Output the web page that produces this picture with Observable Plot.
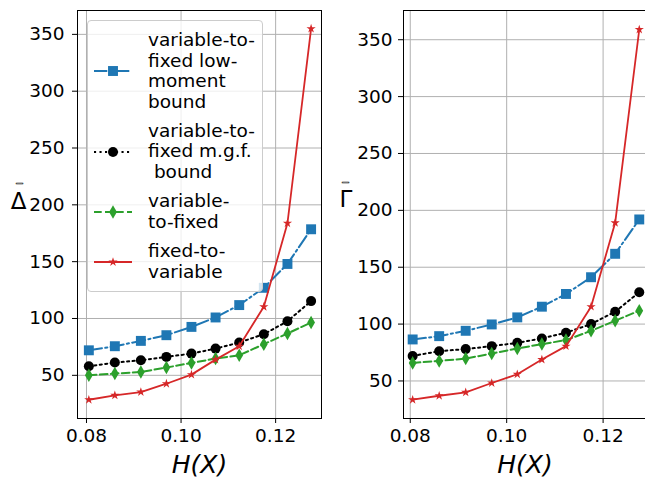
<!DOCTYPE html>
<html><head><meta charset="utf-8">
<script src="https://cdn.jsdelivr.net/npm/d3@7"></script>
<script src="https://cdn.jsdelivr.net/npm/@observablehq/plot@0.6"></script>
<style>
body{margin:0;background:#fff;}
#fig{position:relative;width:645px;height:481px;overflow:hidden;font-family:"DejaVu Sans";background:#fff;}
#left{position:absolute;left:0;top:0;}
#right{position:absolute;left:330px;top:0;}
.legend{position:absolute;left:87px;top:20px;width:176px;height:272px;box-sizing:border-box;background:rgba(255,255,255,0.8);border:1px solid #cccccc;border-radius:4px;padding:9px 0 0 5px;font-size:18.5px;line-height:20.5px;color:#000;}
.entry{display:flex;align-items:center;margin-bottom:8.9px;}
.entry svg{flex:none;width:40px;height:20px;margin-right:15px;}
.lbl{white-space:pre;}
</style></head>
<body>
<div id="fig"><div id="left"></div><div id="right"></div><div class="legend" id="legend"></div></div>
<script>
// ---- data ----
const hx = [0.0805, 0.0860, 0.0915, 0.0969, 0.1022, 0.1073, 0.1123, 0.1175, 0.1225, 0.1275];

const lowMomentDelta = [72, 75.6, 80.3, 85.3, 92.6, 100.9, 111.8, 127, 148, 178.5];
const mgfDelta       = [58, 61.2, 63.2, 66.2, 69.1, 73.5, 78.8, 86.2, 97.6, 115.3];
const v2fDelta       = [50, 51.5, 53, 56.8, 60.9, 64.7, 67.6, 77.4, 86.8, 96.5];
const f2vDelta       = [28.5, 32.4, 35.3, 42.6, 50.6, 63.8, 75.6, 110.3, 183.8, 355];

const lowMomentGamma = [86.5, 89.4, 94.1, 99.7, 105.9, 115.3, 126.5, 141.2, 161.8, 192];
const mgfGamma       = [72, 76.2, 78, 80.6, 83.5, 87.4, 92.4, 100, 110.9, 128];
const v2fGamma       = [65.9, 67.6, 69.7, 74.1, 78.5, 82.4, 85.9, 94.1, 102.9, 111.8];
const f2vGamma       = [33.5, 37, 40, 48.2, 55.9, 68.8, 80.6, 115.3, 189, 359];

const legendLabels = ["variable-to-\nfixed low-\nmoment\nbound", "variable-to-\nfixed m.g.f.\n bound", "variable-\nto-fixed", "fixed-to-\nvariable"];
const xTicks = [0.08, 0.10, 0.12];
const yTicks = [50, 100, 150, 200, 250, 300, 350];
const xLabel = "H(X)";
const leftYLabel = "\u0394";
const rightYLabel = "\u0393";
const barAccent = "_";   // the bar drawn over the y-axis symbols

// ---- styles ----
const styles = [
  {color: "#1f77b4", dash: "13.3,3.3,2.1,3.3", symbol: "square", d3sym: d3.symbolSquare, r: 5.6, w: 2},
  {color: "#000000", dash: "2.1,3.4", symbol: "circle", d3sym: d3.symbolCircle, r: 5, w: 2},
  {color: "#2ca02c", dash: "7.7,3.3", symbol: "diamond", d3sym: d3.symbolDiamond, r: 4.1, w: 2},
  {color: "#d62728", dash: null, symbol: "star", d3sym: d3.symbolStar, r: 2.9, w: 1.8}
];

function rows(ys) { return hx.map((x, i) => ({x, y: ys[i]})); }

function seriesMarks(sets) {
  const m = [];
  sets.forEach((ys, k) => {
    const s = styles[k];
    const data = rows(ys);
    m.push(Plot.line(data, {x: "x", y: "y", stroke: s.color, strokeWidth: s.w, strokeDasharray: s.dash || undefined}));
    m.push(Plot.dot(data, {x: "x", y: "y", symbol: () => s.symbol, r: s.r, fill: s.color, stroke: "none"}));
  });
  return m;
}

const baseStyle = {fontFamily: "DejaVu Sans", fontSize: "18.5px", color: "#000", background: "transparent", overflow: "visible"};

function yLabelMarks(label, dx, dy, barDx, barDy) {
  return [
    Plot.text([label], {text: d => d, frameAnchor: "left", dx: dx, dy: dy, fontSize: 23, textAnchor: "middle"}),
    Plot.text([barAccent], {text: d => d, frameAnchor: "left", dx: barDx, dy: barDy, fontSize: 13, textAnchor: "middle", stroke: "#000", strokeWidth: 0.6})
  ];
}

const left = Plot.plot({
  width: 330, height: 481, marginLeft: 77, marginRight: 9, marginTop: 10, marginBottom: 63,
  style: baseStyle,
  x: {domain: [0.0781, 0.1297], ticks: xTicks, tickFormat: d => d.toFixed(2), tickSize: 5, tickPadding: 5, label: null},
  y: {domain: [12, 371], ticks: yTicks, tickSize: 5, tickPadding: 8, label: null},
  marks: [
    Plot.ruleX(xTicks, {stroke: "#b0b0b0", strokeWidth: 1}),
    Plot.ruleY(yTicks, {stroke: "#b0b0b0", strokeWidth: 1}),
    ...seriesMarks([lowMomentDelta, mgfDelta, v2fDelta, f2vDelta]),
    Plot.frame({stroke: "#000", strokeWidth: 1}),
    ...yLabelMarks(leftYLabel, -59, -12.5, -58, -38),
    Plot.text([xLabel], {text: d => d, frameAnchor: "bottom", dy: 54, fontSize: 25, fontStyle: "italic"})
  ]
});

const right = Plot.plot({
  width: 315, height: 481, marginLeft: 73, marginRight: -1, marginTop: 10, marginBottom: 63,
  style: baseStyle,
  x: {domain: [0.0786, 0.1290], ticks: xTicks, tickFormat: d => d.toFixed(2), tickSize: 5, tickPadding: 5, label: null},
  y: {domain: [17, 375.7], ticks: yTicks, tickSize: 5, tickPadding: 6, label: null},
  marks: [
    Plot.ruleX(xTicks, {stroke: "#b0b0b0", strokeWidth: 1}),
    Plot.ruleY(yTicks, {stroke: "#b0b0b0", strokeWidth: 1}),
    ...seriesMarks([lowMomentGamma, mgfGamma, v2fGamma, f2vGamma]),
    Plot.frame({stroke: "#000", strokeWidth: 1}),
    ...yLabelMarks(rightYLabel, -57.5, -14.4, -58, -39),
    Plot.text([xLabel], {text: d => d, frameAnchor: "bottom", dy: 54, fontSize: 25, fontStyle: "italic"})
  ]
});

document.getElementById("left").appendChild(left);
document.getElementById("right").appendChild(right);

// ---- legend ----
const leg = d3.select("#legend");
legendLabels.forEach((lab, k) => {
  const s = styles[k];
  const e = leg.append("div").attr("class", "entry");
  const svg = e.append("svg").attr("width", 40).attr("height", 20);
  svg.append("line").attr("x1", 1).attr("x2", 39).attr("y1", 10).attr("y2", 10)
    .attr("stroke", s.color).attr("stroke-width", s.w).attr("stroke-dasharray", s.dash);
  svg.append("path").attr("d", d3.symbol(s.d3sym, Math.PI * s.r * s.r)())
    .attr("transform", "translate(20,10)").attr("fill", s.color);
  e.append("div").attr("class", "lbl").text(lab);
});
</script>
</body></html>
